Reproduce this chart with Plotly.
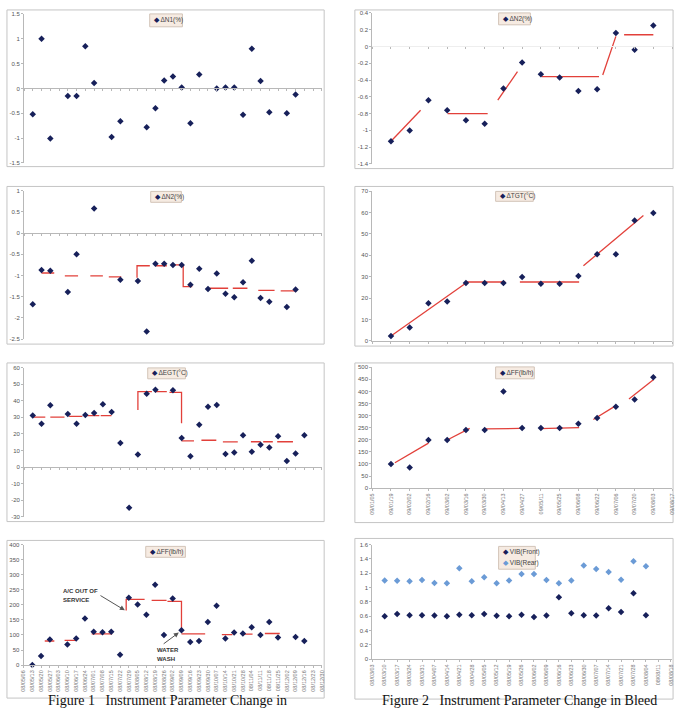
import plotly.graph_objects as go

W, H = 684, 712

# ---------------- data ----------------
left_dates = ["08/05/06", "08/05/13", "08/05/20", "08/05/27", "08/06/03", "08/06/10", "08/06/17",
              "08/06/24", "08/07/01", "08/07/08", "08/07/15", "08/07/22", "08/07/29", "08/08/05",
              "08/08/12", "08/08/19", "08/08/26", "08/09/02", "08/09/09", "08/09/16", "08/09/23",
              "08/09/30", "08/10/07", "08/10/14", "08/10/21", "08/10/28", "08/11/04", "08/11/11",
              "08/11/18", "08/11/25", "08/12/02", "08/12/09", "08/12/16", "08/12/23", "08/12/30"]
right_ff_dates = ["09/01/05", "09/01/19", "09/02/02", "09/02/16", "09/03/02", "09/03/16", "09/03/30",
                  "09/04/13", "09/04/27", "09/05/11", "09/05/25", "09/06/08", "09/06/22", "09/07/06",
                  "09/07/20", "09/08/03", "09/08/17"]
vib_dates = ["08/03/03", "08/03/10", "08/03/17", "08/03/24", "08/03/31", "08/04/07", "08/04/14",
             "08/04/21", "08/04/28", "08/05/05", "08/05/12", "08/05/19", "08/05/26", "08/06/02",
             "08/06/09", "08/06/16", "08/06/23", "08/06/30", "08/07/07", "08/07/14", "08/07/21",
             "08/07/28", "08/08/04", "08/08/11", "08/08/18"]

# Figure 1 (left column)
n1_pos = [1, 2, 3, 5, 6, 7, 8, 10, 11, 14, 15, 16, 17, 18, 19, 20, 22, 23, 24, 25, 26, 27, 28, 30, 31]
n1_val = [-0.52, 1.0, -1.01, -0.15, -0.15, 0.85, 0.11, -0.98, -0.66, -0.78, -0.40, 0.16, 0.24,
          0.02, -0.70, 0.28, 0.0, 0.02, 0.02, -0.53, 0.80, 0.15, -0.48, -0.50, -0.12]

n2_pos = [1, 2, 3, 5, 6, 8, 11, 13, 14, 15, 16, 17, 18, 19, 20, 21, 22, 23, 24, 25, 26, 27, 28, 30, 31]
n2_val = [-1.68, -0.87, -0.89, -1.39, -0.50, 0.58, -1.10, -1.13, -2.32, -0.72, -0.72, -0.75, -0.75,
          -1.22, -0.84, -1.32, -0.95, -1.43, -1.51, -1.16, -0.65, -1.53, -1.62, -1.74, -1.33]
n2_trend = [[(2.0, -0.94), (3.45, -0.94)], [(4.66, -1.01), (6.17, -1.01)], [(7.57, -1.01), (9.0, -1.01)],
            [(9.68, -1.03), (11.1, -1.03)], [(12.9, -1.05), (12.9, -0.77), (14.36, -0.77)],
            [(15.04, -0.77), (16.3, -0.77)], [(17.1, -0.75), (18.17, -0.75), (18.17, -1.26), (19.2, -1.26)],
            [(21.2, -1.30), (23.3, -1.30)], [(23.83, -1.30), (25.5, -1.30)],
            [(26.74, -1.35), (28.6, -1.35)], [(29.3, -1.36), (31.1, -1.36)]]

egt_pos = [1, 2, 3, 5, 6, 7, 8, 9, 10, 11, 12, 13, 14, 15, 17, 18, 19, 20, 21, 22, 23, 24, 25, 26,
           27, 28, 29, 30, 31, 32]
egt_val = [31.2, 26.2, 37.3, 32.0, 26.2, 31.4, 32.6, 37.9, 33.2, 14.6, -24.4, 7.7, 44.3, 46.7, 46.3,
           17.6, 6.5, 25.6, 36.4, 37.4, 7.9, 8.9, 19.2, 9.3, 13.5, 11.9, 18.6, 3.7, 8.3, 19.2]
egt_trend = [[(1.0, 30.2), (2.43, 30.2)], [(3.0, 30.2), (4.62, 30.2)], [(5.15, 30.6), (6.66, 30.6)],
             [(7.23, 31.0), (8.6, 31.0)], [(8.75, 31.0), (9.98, 31.0)],
             [(13.0, 34.4), (13.0, 45.5), (14.6, 45.5)], [(15.0, 45.5), (16.3, 45.5)],
             [(16.6, 45.1), (17.98, 45.1), (17.98, 26.4)],
             [(17.98, 15.8), (19.4, 15.8)], [(20.25, 16.2), (21.95, 16.2)], [(22.7, 15.2), (24.4, 15.2)],
             [(25.9, 15.3), (27.0, 15.3)], [(27.3, 15.3), (28.4, 15.3)], [(28.9, 15.3), (30.7, 15.3)]]

ff_pos = [1, 2, 3, 5, 6, 7, 8, 9, 10, 11, 12, 13, 14, 15, 16, 17, 18, 19, 20, 21, 22, 23, 24, 25,
          26, 27, 28, 29, 31, 32]
ff_val = [0, 30, 85, 68, 88, 155, 111, 109, 111, 34, 224, 201, 167, 267, 100, 221, 116, 77, 80, 143,
          197, 88, 108, 105, 126, 100, 143, 92, 93, 80]
ff_trend = [[(2.42, 80), (3.51, 80)], [(4.68, 82), (6.0, 82)], [(7.77, 104), (10.1, 104)],
            [(11.7, 181), (11.7, 218), (13.8, 218)], [(14.6, 215), (16.3, 215)],
            [(16.4, 212), (18.0, 212), (18.0, 118)], [(18.0, 104), (20.7, 104)],
            [(22.6, 101), (23.8, 101)], [(25.0, 103), (26.1, 103)], [(27.5, 105), (29.2, 105)]]

# Figure 2 (right column)
r_pos = list(range(1, 16))
rn2_val = [-1.13, -1.00, -0.64, -0.76, -0.88, -0.92, -0.50, -0.19, -0.33, -0.37, -0.53, -0.51,
           0.16, -0.04, 0.25]
rn2_trend = [[(1.0, -1.13), (2.58, -0.76)], [(4.02, -0.80), (6.16, -0.80)], [(6.7, -0.64), (7.75, -0.30)],
             [(9.04, -0.36), (12.1, -0.36)], [(12.3, -0.34), (13.0, 0.12)], [(13.44, 0.14), (15.0, 0.14)]]

regt_val = [2.3, 6.2, 17.6, 18.4, 27.0, 27.0, 27.0, 29.8, 26.7, 26.7, 30.3, 40.5, 40.5, 56.3, 59.8]
regt_trend = [[(1.0, 2.3), (4.93, 26.6)], [(5.0, 27.5), (7.1, 27.5)], [(7.88, 27.5), (11.04, 27.5)],
              [(11.27, 35.1), (14.47, 58.6)]]

rff_val = [100, 85, 199, 199, 240, 240, 400, 249, 249, 249, 266, 290, 337, 366, 458]
rff_trend = [[(1.21, 105), (3.0, 186)], [(4.0, 199), (5.2, 247)], [(6.0, 245), (7.88, 247)],
             [(8.93, 246), (11.04, 250)], [(11.8, 284), (13.0, 341)], [(13.7, 369), (15.0, 448)]]

vib_pos = list(range(1, 23))
vib_front = [0.60, 0.63, 0.615, 0.615, 0.61, 0.60, 0.62, 0.615, 0.63, 0.605, 0.60, 0.62, 0.59, 0.61,
             0.865, 0.64, 0.615, 0.61, 0.71, 0.66, 0.92, 0.615]
vib_rear = [1.10, 1.095, 1.09, 1.105, 1.065, 1.06, 1.27, 1.09, 1.145, 1.06, 1.10, 1.19, 1.19, 1.105,
            1.06, 1.10, 1.31, 1.26, 1.22, 1.11, 1.37, 1.30]

# ---------------- styles ----------------
NAVY = "#17205a"
LIGHT = "#6b9bd6"
RED = "#e2403a"
AX = "#b8b8b8"
TXT = "#555555"

panels = [
    dict(k=1, box=(4, 7, 324, 165), plot=(21.2, 11, 321.7, 161.3), xr=[0, 34], yr=[-1.5, 1.5],
         yt=[-1.5, -1, -0.5, 0, 0.5, 1, 1.5], cross=0, nx=34, labels=None,
         leg=(148, 11, 181, 24), legtxt=["ΔN1(%)"]),
    dict(k=2, box=(4, 185, 324, 344), plot=(21.2, 189.3, 321.7, 339), xr=[0, 34], yr=[-2.5, 1],
         yt=[-2.5, -2, -1.5, -1, -0.5, 0, 0.5, 1], cross=0, nx=34, labels=None,
         leg=(149, 190, 180, 201), legtxt=["ΔN2(%)"]),
    dict(k=3, box=(4, 363, 324, 523), plot=(21.2, 367.7, 321.7, 518.3), xr=[0, 34], yr=[-30, 60],
         yt=[-30, -20, -10, 0, 10, 20, 30, 40, 50, 60], cross=0, nx=34, labels=None,
         leg=(146, 368, 184, 379), legtxt=["ΔEGT(°C)"]),
    dict(k=4, box=(4, 542, 324, 701), plot=(20.7, 546.3, 321.7, 667.7), xr=[0, 34], yr=[0, 400],
         yt=[0, 50, 100, 150, 200, 250, 300, 350, 400], cross=None, nx=34, labels=left_dates,
         leg=(144, 548, 184, 559), legtxt=["ΔFF(lb/h)"]),
    dict(k=5, box=(355, 7, 676, 167), plot=(372.5, 10, 675, 162.3), xr=[0, 16], yr=[-1.4, 0.4],
         yt=[-1.4, -1.2, -1, -0.8, -0.6, -0.4, -0.2, 0, 0.2, 0.4], cross=0, nx=16, labels=None,
         leg=(500, 10, 532, 22), legtxt=["ΔN2(%)"]),
    dict(k=6, box=(355, 185, 676, 346), plot=(372.5, 189.7, 675, 340.7), xr=[0, 16], yr=[0, 70],
         yt=[0, 10, 20, 30, 40, 50, 60, 70], cross=None, nx=16, labels=None,
         leg=(497, 190, 535, 200), legtxt=["ΔTGT(°C)"]),
    dict(k=7, box=(355, 363, 676, 524), plot=(372.5, 367.3, 675, 489.3), xr=[0, 16], yr=[0, 500],
         yt=[0, 50, 100, 150, 200, 250, 300, 350, 400, 450, 500], cross=None, nx=16, labels=right_ff_dates,
         leg=(497, 367, 536, 379), legtxt=["ΔFF(lb/h)"]),
    dict(k=8, box=(355, 540, 676, 702), plot=(372.5, 546.3, 675, 661.7), xr=[0, 24.1], yr=[0, 1.6],
         yt=[0, 0.2, 0.4, 0.6, 0.8, 1, 1.2, 1.4, 1.6], cross=None, nx=24, labels=vib_dates,
         leg=(500, 548, 537, 571), legtxt=["VIB(Front)", "VIB(Rear)"]),
]

series = {
    1: [(n1_pos, n1_val, NAVY)],
    2: [(n2_pos, n2_val, NAVY)],
    3: [(egt_pos, egt_val, NAVY)],
    4: [(ff_pos, ff_val, NAVY)],
    5: [(r_pos, rn2_val, NAVY)],
    6: [(r_pos, regt_val, NAVY)],
    7: [(r_pos, rff_val, NAVY)],
    8: [(vib_pos, vib_front, NAVY), (vib_pos, vib_rear, LIGHT)],
}
trends = {2: n2_trend, 3: egt_trend, 4: ff_trend, 5: rn2_trend, 6: regt_trend, 7: rff_trend}


def fmt(v):
    return f"{v:g}"


fig = go.Figure()
layout = dict(width=W, height=H, margin=dict(l=0, r=0, t=0, b=0), paper_bgcolor="white",
              plot_bgcolor="white", showlegend=False, shapes=[], annotations=[])

for p in panels:
    k = p["k"]
    x0, y0, x1, y1 = p["plot"]
    xd = [x0 / W, x1 / W]
    yd = [1 - y1 / H, 1 - y0 / H]
    xs = "" if k == 1 else str(k)
    xa = dict(domain=xd, range=p["xr"], showgrid=False, zeroline=False, showline=True,
              linecolor=AX, linewidth=1, ticks="outside", ticklen=2, tickcolor=AX,
              tickvals=list(range(0, p["nx"] + 1)), fixedrange=True)
    if p["labels"] is not None:
        xa.update(ticktext=p["labels"], showticklabels=True, tickangle=-90,
                  tickfont=dict(size=5.5, color="#777777", family="Arial"))
    else:
        xa.update(showticklabels=False)
    if p["cross"] is not None:
        pos = yd[0] + (p["cross"] - p["yr"][0]) / (p["yr"][1] - p["yr"][0]) * (yd[1] - yd[0])
        xa.update(anchor="free", position=pos)
        if k == 5:
            xa.update(linecolor="#eeeeee")
    else:
        xa.update(anchor="y" + xs)
    ya = dict(domain=yd, range=p["yr"], anchor="x" + xs, showgrid=False, zeroline=False,
              showline=True, linecolor=AX, linewidth=1, ticks="outside", ticklen=2, tickcolor=AX,
              tickvals=p["yt"], ticktext=[fmt(v) for v in p["yt"]],
              tickfont=dict(size=6, color=TXT, family="Arial"), fixedrange=True)
    layout["xaxis" + xs] = xa
    layout["yaxis" + xs] = ya

    # panel frame
    bx0, by0, bx1, by1 = p["box"]
    layout["shapes"].append(dict(type="rect", xref="paper", yref="paper", x0=bx0 / W, x1=bx1 / W,
                                 y0=1 - by1 / H, y1=1 - by0 / H, line=dict(color="#c4c4c4", width=1),
                                 fillcolor="rgba(0,0,0,0)", layer="below"))

    # trend segments
    if k in trends:
        tx, ty = [], []
        for seg in trends[k]:
            for (a, b) in seg:
                tx.append(a)
                ty.append(b)
            tx.append(None)
            ty.append(None)
        fig.add_trace(go.Scatter(x=tx, y=ty, mode="lines", line=dict(color=RED, width=1.3),
                                 xaxis="x" + xs, yaxis="y" + xs, hoverinfo="skip", cliponaxis=False))
    # points
    for (px, pv, col) in series[k]:
        fig.add_trace(go.Scatter(x=px, y=pv, mode="markers",
                                 marker=dict(symbol="diamond", size=5, color=col,
                                             line=dict(width=0)),
                                 xaxis="x" + xs, yaxis="y" + xs, cliponaxis=False))

    # legend box
    lx0, ly0, lx1, ly1 = p["leg"]
    layout["shapes"].append(dict(type="rect", xref="paper", yref="paper", x0=lx0 / W, x1=lx1 / W,
                                 y0=1 - ly1 / H, y1=1 - ly0 / H, line=dict(color="#d2c4b8", width=1),
                                 fillcolor="#f6ebe2"))
    n = len(p["legtxt"])
    cols = [NAVY, LIGHT]
    for j, t in enumerate(p["legtxt"]):
        cy = ly0 + (ly1 - ly0) * (j + 0.5) / n
        layout["annotations"].append(dict(
            xref="paper", yref="paper", x=(lx0 + 2) / W, y=1 - cy / H, xanchor="left", yanchor="middle",
            showarrow=False,
            text=f'<span style="color:{cols[j]}">◆</span> {t}',
            font=dict(size=6.5, color="#444444", family="Arial")))

# FF event annotations (figure 1)
layout["annotations"] += [
    dict(xref="x4", yref="y4", x=4.3, y=245, xanchor="left", yanchor="middle", showarrow=False,
         text="<b>A/C OUT OF</b>", font=dict(size=6, color="#333333", family="Arial")),
    dict(xref="x4", yref="y4", x=4.3, y=217, xanchor="left", yanchor="middle", showarrow=False,
         text="<b>SERVICE</b>", font=dict(size=6, color="#333333", family="Arial")),
    dict(xref="x4", yref="y4", x=11.55, y=182, axref="x4", ayref="y4", ax=8.6, ay=234, text="",
         showarrow=True, arrowhead=2, arrowsize=1, arrowwidth=1, arrowcolor="#555555"),
    dict(xref="x4", yref="y4", x=14.95, y=50, xanchor="left", yanchor="middle", showarrow=False,
         text="<b>WATER</b>", font=dict(size=6, color="#333333", family="Arial")),
    dict(xref="x4", yref="y4", x=14.95, y=20, xanchor="left", yanchor="middle", showarrow=False,
         text="<b>WASH</b>", font=dict(size=6, color="#333333", family="Arial")),
    dict(xref="x4", yref="y4", x=17.7, y=108, axref="x4", ayref="y4", ax=15.8, ay=67, text="",
         showarrow=True, arrowhead=2, arrowsize=1, arrowwidth=1, arrowcolor="#555555"),
]

# captions
layout["annotations"] += [
    dict(xref="paper", yref="paper", x=166 / W, y=0, xanchor="center", yanchor="bottom",
         showarrow=False, text="Figure 1   Instrument Parameter Change in", borderpad=0,
         font=dict(size=14, color="#111111", family="Liberation Serif")),
    dict(xref="paper", yref="paper", x=521 / W, y=0, xanchor="center", yanchor="bottom",
         showarrow=False, text="Figure 2   Instrument Parameter Change in Bleed", borderpad=0,
         font=dict(size=14, color="#111111", family="Liberation Serif")),
]

fig.update_layout(**layout)
fig.write_html("out.html")
